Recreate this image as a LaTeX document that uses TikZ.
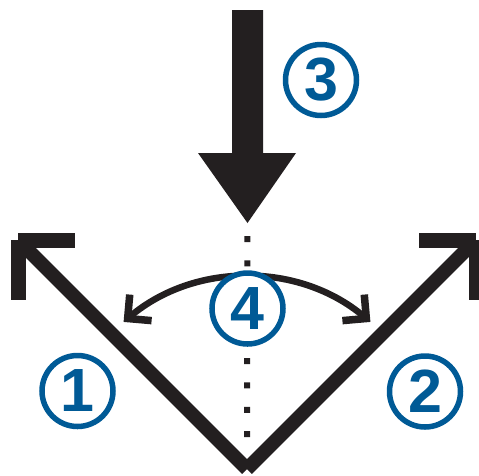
\documentclass[tikz,border=0pt]{standalone}
\usepackage{fontspec}
\setsansfont{Liberation Sans}
\usetikzlibrary{arrows.meta}
\definecolor{dialblue}{RGB}{0,90,150}
\definecolor{ink}{RGB}{35,31,32}
\begin{document}
\begin{tikzpicture}[
        x=1pt, y=-1pt,
        callout/.style={circle, draw=dialblue, line width=5.5pt, fill=white, minimum size=71pt, inner sep=0pt, text=dialblue, font=\sffamily\bfseries\fontsize{61pt}{61pt}\selectfont},
        arm/.style={draw=ink, line width=14pt},
        barb/.style={draw=ink, line width=15pt},
        swing/.style={draw=ink, line width=6.5pt, {Straight Barb[length=17pt, width=34pt, line width=7.5pt]}-{Straight Barb[length=17pt, width=34pt, line width=7.5pt]}},
        plumb/.style={draw=ink, line width=6pt, dash pattern=on 6pt off 18.4pt, dash phase=11.4pt, shorten >=14pt}
    ]
    \useasboundingbox (0,0) rectangle (479,475);

    % Points
    \coordinate (V) at (247,469);
    \coordinate (ltip) at (18,240);
    \coordinate (rtip) at (476,240);
    \coordinate (drop) at (247.5,223);

    % Push arrow and plumb line
    \fill[ink] (232,10) -- (263,10) -- (263,153) -- (296,153) -- (drop) -- (198,153) -- (232,153) -- cycle;
    \draw[plumb] (drop) -- (V);

    % Angle sweep
    \draw[swing] ([shift={(-130:192)}]V) arc[start angle=-130, end angle=-50, radius=192];

    % Arms
    \draw[arm] (V) -- (ltip);
    \draw[arm] (V) -- (rtip);
    \draw[barb] (ltip) -- ++(57,0);
    \draw[barb] (ltip) -- ++(0,60);
    \draw[barb] (rtip) -- ++(-57,0);
    \draw[barb] (rtip) -- ++(0,60);

    % Callouts
    \node[callout] (c1) at (77.5,391) {1};
    \node[callout] (c2) at (425,391.5) {2};
    \node[callout] (c3) at (321,80) {3};
    \node[callout] (c4) at (247.5,308.5) {4};

    \end{tikzpicture}
\end{document}
